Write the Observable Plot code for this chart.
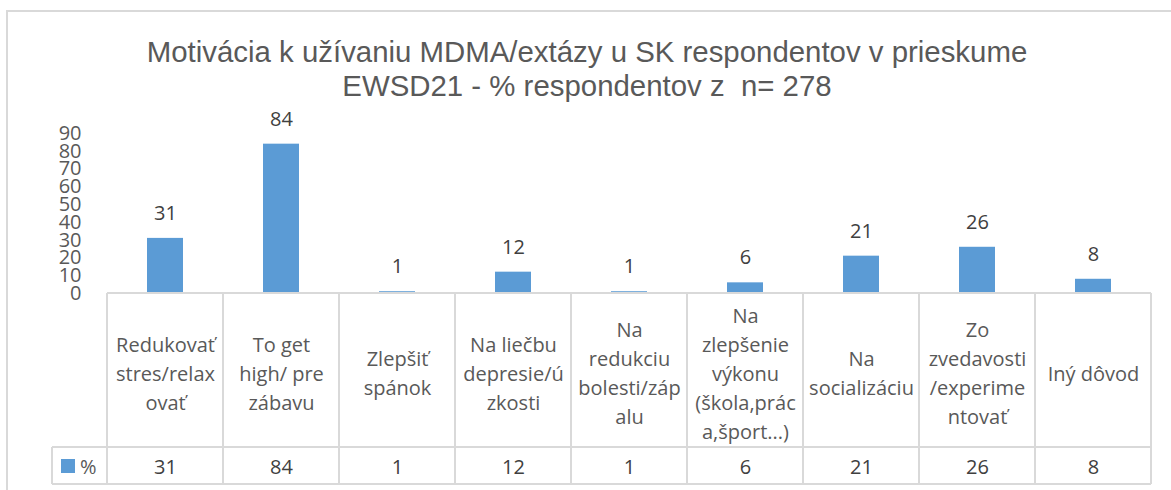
<!DOCTYPE html>
<html><head><meta charset="utf-8">
<script src="https://cdn.jsdelivr.net/npm/d3@7"></script>
<script src="https://cdn.jsdelivr.net/npm/@observablehq/plot@0.6"></script>
<style>
body{margin:0;background:#fff;overflow:hidden;width:1171px;height:490px;position:relative}
#frame{position:absolute;left:6px;top:10px;width:1300px;height:700px;border:2px solid #d9d9d9;box-sizing:border-box}
#title{position:relative;padding-top:35px;height:69px;text-align:center;font-family:"Liberation Sans",Arial,sans-serif;font-size:29.4px;line-height:34px;color:#595959;white-space:pre;padding-left:3px}
#chart{position:relative}
#chart svg{display:block}
</style></head>
<body>
<div id="frame"></div>
<div id="title">Motivácia k užívaniu MDMA/extázy u SK respondentov v prieskume
EWSD21 - % respondentov z  n= 278</div>
<div id="chart"></div>
<script>
const categories = ["Redukovať stres/relaxovať", "To get high/ pre zábavu", "Zlepšiť spánok", "Na liečbu depresie/úzkosti", "Na redukciu bolesti/zápalu", "Na zlepšenie výkonu (škola,práca,šport...)", "Na socializáciu", "Zo zvedavosti /experimentovať", "Iný dôvod"];
const tickLabels = ["Redukovať\nstres/relax\novať", "To get\nhigh/ pre\nzábavu", "Zlepšiť\nspánok", "Na liečbu\ndepresie/ú\nzkosti", "Na\nredukciu\nbolesti/záp\nalu", "Na\nzlepšenie\nvýkonu\n(škola,prác\na,šport...)", "Na\nsocializáciu", "Zo\nzvedavosti\n/experime\nntovať", "Iný dôvod"];
const values = [31, 84, 1, 12, 1, 6, 21, 26, 8];
const yTicks = [0, 10, 20, 30, 40, 50, 60, 70, 80, 90];
const seriesName = "%";

const data = categories.map((c, i) => ({cat: c, v: values[i], label: tickLabels[i]}));
const barColor = "#5b9bd5";
const gridColor = "#d9d9d9";

const chart = Plot.plot({
  width: 1171, height: 386,
  marginTop: 29, marginBottom: 197, marginLeft: 105, marginRight: 19,
  style: {background: "transparent", fontFamily: "'Open Sans', sans-serif", fontSize: "20px", color: "#595959", overflow: "visible"},
  x: {domain: categories, padding: 0, axis: null},
  y: {domain: [0, 90], ticks: yTicks, tickSize: 0, tickPadding: 24, label: null, line: false},
  marks: [
    Plot.barY(data, {x: "cat", y: "v", fill: barColor, insetLeft: 40, insetRight: 40}),
    Plot.text(data, {x: "cat", y: "v", text: d => String(d.v), dy: -25, fontSize: 20, fill: "#404040"}),
    Plot.text(data, {x: "cat", text: "label", frameAnchor: "bottom", lineAnchor: "middle", dy: 78, lineHeight: 1.45, fontSize: 20, fill: "#595959"}),
    Plot.text(data, {x: "cat", text: d => String(d.v), frameAnchor: "bottom", lineAnchor: "middle", dy: 174, fontSize: 20, fill: "#404040"})
  ]
});
document.getElementById("chart").appendChild(chart);

const svg = d3.select(chart);
const xs = chart.scale("x"), ys = chart.scale("y");
const y0 = ys.apply(0);
const y1 = y0 + 154, y2 = y1 + 37;
const left = xs.apply(categories[0]);
const right = xs.apply(categories[categories.length - 1]) + xs.bandwidth;
const legendLeft = 52;
const g = svg.append("g").attr("stroke", gridColor).attr("stroke-width", 2).attr("fill", "none");
const edges = categories.map(c => xs.apply(c)).concat([right]);
edges.forEach(x => g.append("line").attr("x1", x).attr("x2", x).attr("y1", y0).attr("y2", y2));
g.append("line").attr("x1", left).attr("x2", right).attr("y1", y0).attr("y2", y0);
g.append("line").attr("x1", legendLeft).attr("x2", right).attr("y1", y1).attr("y2", y1);
g.append("line").attr("x1", legendLeft).attr("x2", right).attr("y1", y2).attr("y2", y2);
g.append("line").attr("x1", legendLeft).attr("x2", legendLeft).attr("y1", y1).attr("y2", y2);
svg.append("rect").attr("x", 61).attr("y", y1 + 12).attr("width", 14).attr("height", 14).attr("fill", barColor);
svg.append("text").attr("x", 80).attr("y", y1 + 20).attr("dy", "0.35em").attr("text-anchor", "start").attr("fill", "#595959").attr("font-size", 20).text(seriesName);
</script>
</body></html>
